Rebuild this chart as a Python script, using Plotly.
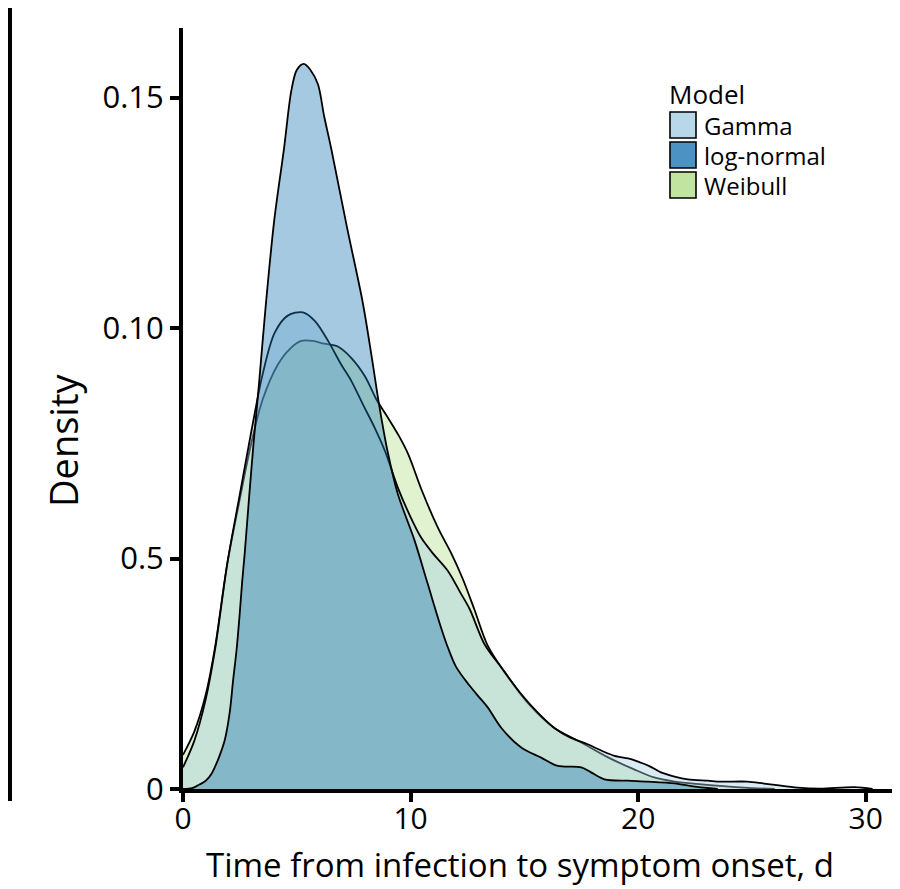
import plotly.graph_objects as go

# ---------------- data ----------------
models = ["Gamma", "log-normal", "Weibull"]

weibull_x = [0, 0.5, 1.0, 1.4, 1.95, 2.5, 3.0, 3.5, 4.17, 4.7, 5.2, 5.7, 6.2, 6.8,
             7.4, 8.0, 8.5, 9.0, 9.5, 9.9, 10.5, 11.2, 11.8, 12.3, 12.8, 13.4, 14.3,
             15.2, 16.3, 17.5, 18.7, 19.8, 20.7, 21.6, 22.8, 24.0, 25.0, 26.0]
weibull_y = [0.0074, 0.0125, 0.0205, 0.0305, 0.0490, 0.0630, 0.0750, 0.0845, 0.0921,
             0.0955, 0.0972, 0.0972, 0.0966, 0.0960, 0.0935, 0.0895, 0.0845, 0.0806,
             0.0765, 0.0726, 0.0647, 0.0567, 0.0510, 0.0455, 0.0390, 0.0310, 0.0242,
             0.0184, 0.0133, 0.0101, 0.0068, 0.0043, 0.0025, 0.0016, 0.0010, 0.0005,
             0.0002, 0.0]

gamma_x = [0, 0.5, 1.0, 1.4, 1.95, 2.5, 3.0, 3.5, 4.03, 4.6, 5.27, 5.8, 6.4, 6.95,
           7.4, 7.9, 8.42, 8.9, 9.44, 10.0, 10.47, 11.0, 11.64, 12.2, 12.6, 13.25, 13.98,
           14.86, 15.6, 16.3, 17.0, 17.78, 18.4, 18.96, 19.69, 20.13, 20.6, 21.0, 21.6,
           22.18, 23.06, 23.64, 24.8, 25.5, 26.0, 27.0, 28.0, 29.5, 30.3]
gamma_y = [0.0047, 0.0105, 0.0195, 0.0300, 0.0490, 0.0640, 0.0775, 0.0900, 0.0990,
           0.1027, 0.1034, 0.1015, 0.0970, 0.0921, 0.0885, 0.0835, 0.0784, 0.0730,
           0.0654, 0.0590, 0.0545, 0.0510, 0.0473, 0.0425, 0.0390, 0.0314, 0.0264,
           0.0206, 0.0165, 0.0133, 0.0112, 0.0097, 0.0083, 0.0072, 0.0065, 0.0057,
           0.0047, 0.0036, 0.0027, 0.0021, 0.0018, 0.0016, 0.0016, 0.0012, 0.0009,
           0.0003, 0.0001, 0.0004, 0.0]

lognormal_x = [0, 0.4, 0.66, 1.0, 1.24, 1.55, 1.83, 2.05, 2.2, 2.35, 2.49, 2.6, 2.71,
               2.9, 3.1, 3.35, 3.62, 4.0, 4.44, 4.76, 5.0, 5.31, 5.6, 5.93, 6.2, 6.51,
               7.2, 7.9, 8.3, 8.64, 9.0, 9.44, 10.17, 10.76, 11.34, 11.64, 12.0, 12.58,
               13.0, 13.39, 13.98, 14.86, 15.74, 16.47, 17.5, 17.93, 18.52, 19.54,
               20.42, 21.6, 22.5, 23.5]
lognormal_y = [0.0, 0.0002, 0.0008, 0.0018, 0.0032, 0.0065, 0.0105, 0.0165, 0.0235,
               0.0300, 0.0379, 0.0450, 0.0510, 0.0630, 0.0750, 0.0885, 0.1040, 0.1230,
               0.1390, 0.1515, 0.1560, 0.1573, 0.1560, 0.1529, 0.1460, 0.1390, 0.1220,
               0.1055, 0.0935, 0.0827, 0.0730, 0.0640, 0.0540, 0.0444, 0.0350, 0.0307,
               0.0265, 0.0225, 0.0200, 0.0177, 0.0133, 0.0090, 0.0068, 0.0050, 0.0047,
               0.0036, 0.0021, 0.0018, 0.0016, 0.0012, 0.0005, 0.0]

x_tick_vals = [0, 10, 20, 30]
x_tick_text = ["0", "10", "20", "30"]
y_tick_vals = [0, 0.05, 0.10, 0.15]
y_tick_text = ["0", "0.5", "0.10", "0.15"]

x_title = "Time from infection to symptom onset, d"
y_title = "Density"
legend_title = "Model"

# ---------------- styling ----------------
W, H = 900, 889
L_M, R_M, T_M, B_M = 175, 7, 20, 108
PW, PH = W - L_M - R_M, H - T_M - B_M
FONT = "Open Sans"

fill_colors = {
    "Gamma": "rgba(166,206,227,0.4)",
    "log-normal": "rgba(31,120,180,0.4)",
    "Weibull": "rgba(178,223,138,0.4)",
}
legend_colors = {
    "Gamma": "rgba(166,206,227,0.8)",
    "log-normal": "rgba(31,120,180,0.8)",
    "Weibull": "rgba(178,223,138,0.8)",
}


def px_x(p):
    return (p - L_M) / PW


def px_y(p):
    return (H - B_M - p) / PH


series = {
    "Weibull": (weibull_x, weibull_y),
    "Gamma": (gamma_x, gamma_y),
    "log-normal": (lognormal_x, lognormal_y),
}

fig = go.Figure()
for name in ["Weibull", "Gamma", "log-normal"]:
    xs, ys = series[name]
    fig.add_trace(go.Scatter(
        x=xs, y=ys, name=name, mode="lines", fill="tozeroy",
        fillcolor=fill_colors[name],
        line=dict(color="black", width=1.8, shape="spline", smoothing=0.9),
        showlegend=False, hoverinfo="skip",
    ))

shapes = []
annotations = []

# manual legend
annotations.append(dict(text=legend_title, xref="paper", yref="paper",
                        x=px_x(659), y=px_y(86), xanchor="left", yanchor="middle",
                        showarrow=False, font=dict(family=FONT, size=26, color="black")))
box_tops = [104, 134, 164]
for name, top in zip(models, box_tops):
    shapes.append(dict(type="rect", xref="paper", yref="paper",
                       x0=px_x(662), x1=px_x(688), y0=px_y(top + 26), y1=px_y(top),
                       fillcolor=legend_colors[name], line=dict(color="black", width=1.6)))
    annotations.append(dict(text=name, xref="paper", yref="paper",
                            x=px_x(694), y=px_y(top + 13), xanchor="left", yanchor="middle",
                            showarrow=False, font=dict(family=FONT, size=24, color="black")))

# axis titles
annotations.append(dict(text=x_title, xref="paper", yref="paper",
                        x=px_x(512), y=px_y(856), xanchor="center", yanchor="middle",
                        showarrow=False, font=dict(family=FONT, size=33, color="black")))
annotations.append(dict(text=y_title, xref="paper", yref="paper",
                        x=px_x(55), y=px_y(433), xanchor="center", yanchor="middle",
                        textangle=-90, showarrow=False,
                        font=dict(family=FONT, size=38, color="black")))

# stray border line at left edge of the reference image
shapes.append(dict(type="line", xref="paper", yref="paper",
                   x0=px_x(2), x1=px_x(2), y0=px_y(0), y1=px_y(793),
                   line=dict(color="black", width=4)))

fig.update_layout(
    width=W, height=H,
    margin=dict(l=L_M, r=R_M, t=T_M, b=B_M, pad=0),
    paper_bgcolor="white", plot_bgcolor="white",
    shapes=shapes, annotations=annotations,
    showlegend=False,
    xaxis=dict(range=[0, 31.55], tickvals=x_tick_vals, ticktext=x_tick_text,
               showgrid=False, zeroline=False, showline=True, linecolor="black",
               linewidth=4, ticks="outside", ticklen=9, tickwidth=4, tickcolor="black",
               ticklabelstandoff=-9,
               tickfont=dict(family=FONT, size=30, color="black")),
    yaxis=dict(range=[0, 0.1651], tickvals=y_tick_vals, ticktext=y_tick_text,
               showgrid=False, zeroline=False, showline=True, linecolor="black",
               linewidth=4, ticks="outside", ticklen=9, tickwidth=4, tickcolor="black",
               tickfont=dict(family=FONT, size=31, color="black")),
)

fig.write_html("out.html")
